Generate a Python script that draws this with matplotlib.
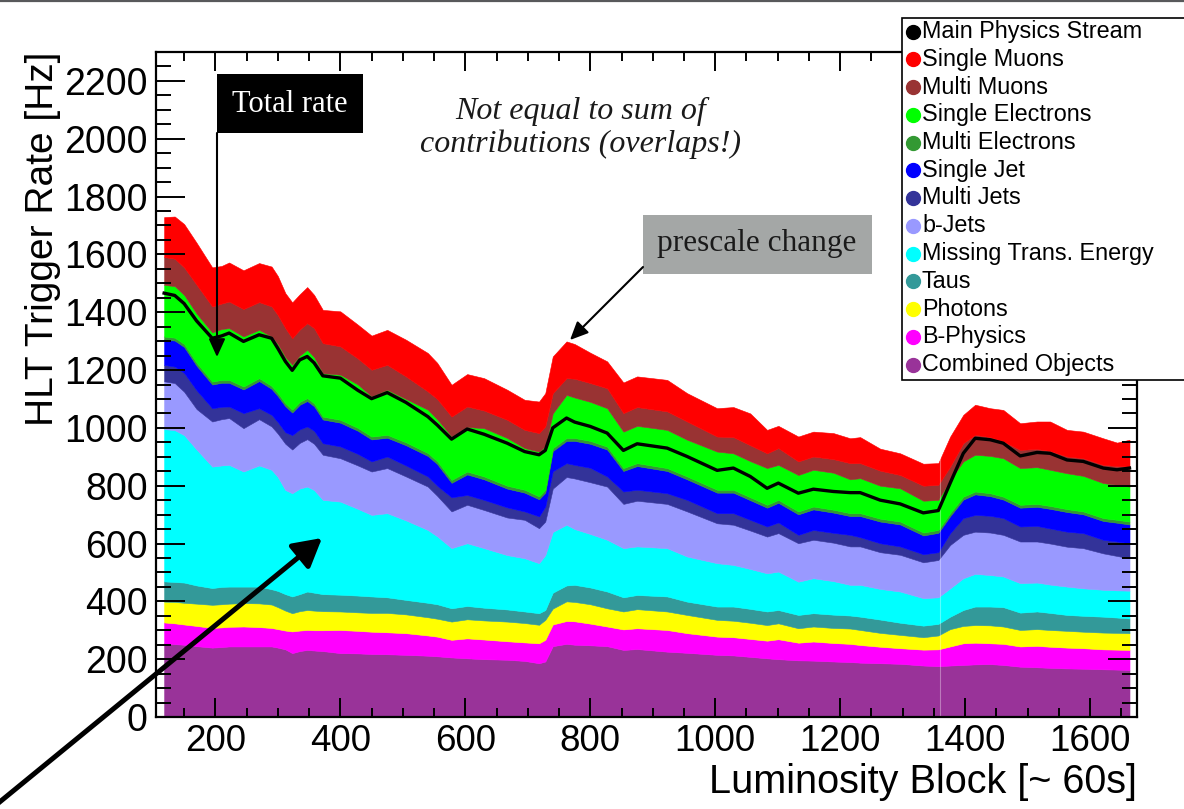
import numpy as np
import matplotlib
matplotlib.use("Agg")
import matplotlib.pyplot as plt
from matplotlib.patches import Rectangle, FancyArrowPatch
from matplotlib.lines import Line2D
from matplotlib.ticker import MultipleLocator

plt.rcParams["font.family"] = ["Liberation Sans", "DejaVu Sans"]

# Luminosity block of each sample
lumi_block = [118, 135, 150, 170, 195, 210, 222, 245, 270, 290,
              300, 312, 323, 335, 347, 358, 372, 400, 428, 450,
              475, 505, 540, 555, 578, 603, 630, 667, 695, 718,
              728, 740, 762, 775, 800, 827, 853, 875, 923, 955,
              1003, 1029, 1056, 1083, 1101, 1133, 1157, 1189, 1216, 1232,
              1264, 1296, 1333, 1357, 1376, 1397, 1416, 1440, 1461, 1488,
              1515, 1536, 1563, 1589, 1621, 1643, 1663]

# Upper edge [Hz] of each stacked band, bottom band first
edge_combined = [255, 252, 250, 245, 240, 242, 244, 244, 244, 244,
                 240, 234, 221, 228, 232, 230, 228, 221, 220, 218,
                 217, 215, 212, 210, 206, 203, 200, 198, 194, 186,
                 192, 245, 253, 250, 248, 245, 232, 235, 226, 222,
                 215, 213, 208, 203, 200, 196, 195, 192, 190, 188,
                 186, 184, 178, 176, 178, 180, 182, 183, 180, 174,
                 172, 170, 168, 167, 165, 164, 163]
edge_bphysics = [327, 324, 320, 315, 308, 310, 312, 313, 311, 308,
                 304, 299, 296, 299, 301, 300, 300, 301, 298, 295,
                 293, 290, 282, 278, 267, 272, 268, 262, 258, 255,
                 267, 320, 332, 331, 323, 313, 303, 307, 301, 290,
                 278, 276, 270, 264, 269, 257, 261, 256, 253, 249,
                 243, 238, 233, 234, 244, 255, 257, 255, 253, 244,
                 246, 243, 240, 238, 234, 233, 232]
edge_photons = [399, 398, 395, 392, 388, 390, 392, 394, 393, 389,
                380, 368, 359, 366, 370, 368, 366, 365, 362, 360,
                360, 355, 345, 340, 330, 338, 334, 330, 325, 319,
                336, 375, 400, 398, 390, 376, 365, 373, 365, 353,
                336, 333, 326, 318, 324, 307, 313, 308, 306, 301,
                291, 284, 276, 282, 304, 315, 318, 317, 313, 301,
                304, 301, 298, 295, 292, 291, 290]
edge_taus = [469, 467, 465, 455, 446, 450, 451, 451, 451, 442,
             436, 425, 417, 425, 434, 430, 425, 423, 420, 417,
             414, 405, 395, 390, 376, 384, 378, 372, 365, 359,
             370, 430, 455, 457, 448, 434, 414, 422, 417, 399,
             382, 382, 374, 365, 370, 353, 359, 354, 351, 347,
             337, 326, 316, 322, 347, 370, 382, 382, 380, 361,
             365, 360, 353, 350, 347, 344, 341]
edge_met = [996, 992, 975, 925, 866, 870, 872, 849, 870, 855,
            830, 785, 774, 790, 797, 785, 751, 745, 720, 699,
            705, 680, 647, 625, 584, 601, 584, 560, 549, 532,
            560, 640, 665, 650, 633, 613, 584, 590, 584, 555,
            532, 526, 512, 497, 503, 468, 480, 470, 457, 457,
            443, 434, 411, 414, 445, 480, 495, 491, 486, 463,
            465, 458, 451, 445, 440, 438, 437]
edge_bjets = [1161, 1155, 1125, 1065, 1022, 1030, 1034, 999, 1030, 1005,
              980, 945, 925, 948, 961, 945, 907, 895, 870, 849,
              861, 832, 797, 765, 711, 734, 716, 690, 682, 653,
              676, 790, 830, 825, 812, 797, 737, 748, 737, 711,
              670, 665, 645, 624, 636, 601, 613, 603, 590, 590,
              570, 561, 535, 543, 595, 630, 641, 638, 630, 607,
              607, 600, 589, 584, 566, 557, 549]
edge_multi_jets = [1218, 1212, 1190, 1130, 1068, 1073, 1074, 1051, 1068, 1045,
                   1020, 985, 975, 995, 1005, 990, 947, 936, 910, 884,
                   901, 870, 832, 800, 760, 768, 751, 725, 711, 694,
                   728, 850, 878, 872, 862, 832, 780, 786, 774, 751,
                   705, 705, 682, 659, 673, 630, 647, 637, 630, 622,
                   601, 590, 563, 570, 636, 688, 699, 696, 688, 659,
                   661, 652, 641, 636, 613, 607, 601]
edge_single_jet = [1306, 1302, 1280, 1215, 1150, 1156, 1156, 1133, 1162, 1135,
                   1110, 1075, 1053, 1080, 1093, 1075, 1029, 1018, 990, 960,
                   966, 940, 903, 875, 810, 839, 822, 790, 776, 753,
                   776, 920, 955, 955, 945, 925, 851, 868, 851, 822,
                   776, 776, 750, 724, 741, 701, 718, 707, 695, 695,
                   676, 666, 628, 637, 695, 752, 770, 764, 752, 724,
                   727, 720, 709, 701, 678, 672, 666]
edge_multi_e = [1316, 1312, 1290, 1225, 1160, 1166, 1166, 1143, 1172, 1145,
                1120, 1085, 1063, 1090, 1103, 1085, 1039, 1028, 1000, 970,
                976, 950, 913, 885, 820, 849, 832, 800, 786, 763,
                786, 930, 965, 965, 955, 935, 861, 878, 861, 832,
                786, 786, 760, 734, 751, 711, 728, 717, 705, 705,
                686, 676, 638, 647, 705, 762, 780, 774, 762, 734,
                737, 730, 719, 711, 688, 682, 676]
edge_single_e = [1495, 1490, 1460, 1395, 1330, 1342, 1345, 1316, 1339, 1316,
                 1290, 1245, 1218, 1250, 1270, 1245, 1189, 1184, 1150, 1109,
                 1132, 1100, 1063, 1030, 970, 1003, 999, 965, 930, 918,
                 936, 1050, 1114, 1105, 1090, 1068, 987, 1007, 993, 959,
                 918, 912, 885, 861, 872, 837, 855, 845, 822, 826,
                 800, 791, 748, 751, 820, 884, 907, 903, 895, 861,
                 864, 855, 843, 834, 809, 803, 797]
edge_multi_mu = [1591, 1585, 1555, 1495, 1420, 1430, 1437, 1411, 1435, 1420,
                 1390, 1345, 1310, 1340, 1362, 1345, 1293, 1282, 1240, 1201,
                 1218, 1178, 1126, 1100, 1039, 1074, 1060, 1028, 993, 982,
                 1005, 1120, 1172, 1170, 1155, 1137, 1051, 1072, 1057, 1022,
                 970, 968, 940, 912, 930, 884, 901, 892, 878, 878,
                 852, 837, 800, 803, 866, 947, 976, 968, 953, 924,
                 927, 920, 901, 895, 872, 868, 866]
edge_single_mu = [1729, 1731, 1705, 1640, 1555, 1560, 1572, 1545, 1570, 1558,
                  1525, 1466, 1434, 1462, 1487, 1460, 1408, 1403, 1357, 1319,
                  1339, 1305, 1259, 1225, 1149, 1186, 1172, 1132, 1097, 1091,
                  1120, 1247, 1299, 1290, 1260, 1230, 1157, 1178, 1166, 1120,
                  1068, 1072, 1050, 993, 1007, 970, 987, 982, 964, 968,
                  928, 912, 876, 878, 970, 1045, 1080, 1068, 1062, 1016,
                  1022, 1022, 993, 987, 964, 949, 959]

# Total rate of the main physics stream [Hz]
main_stream = [1466, 1458, 1430, 1370, 1310, 1318, 1328, 1299, 1322, 1310,
               1275, 1230, 1199, 1235, 1247, 1225, 1180, 1172, 1130, 1101,
               1122, 1088, 1039, 1010, 961, 996, 978, 947, 918, 907,
               922, 1000, 1034, 1020, 1005, 982, 922, 945, 930, 901,
               853, 861, 832, 791, 809, 774, 788, 780, 776, 776,
               750, 737, 706, 714, 809, 912, 964, 959, 947, 903,
               915, 912, 889, 884, 861, 855, 861]

categories = ["Combined Objects", "B-Physics", "Photons", "Taus",
              "Missing Trans. Energy", "b-Jets", "Multi Jets", "Single Jet",
              "Multi Electrons", "Single Electrons", "Multi Muons", "Single Muons"]
band_colors = ["#993399", "#ff00ff", "#ffff00", "#339999",
               "#00ffff", "#9999ff", "#333399", "#0000ff",
               "#339933", "#00ff00", "#993333", "#ff0000"]

edges = np.array([edge_combined, edge_bphysics, edge_photons, edge_taus,
                  edge_met, edge_bjets, edge_multi_jets, edge_single_jet,
                  edge_multi_e, edge_single_e, edge_multi_mu, edge_single_mu],
                 dtype=float)
rates = np.diff(np.vstack([np.zeros(edges.shape[1]), edges]), axis=0)

W, H = 1184, 809


def fpt(x, y):
    """Pixel position (from top-left) to figure fraction."""
    return x / W, 1 - y / H


fig = plt.figure(figsize=(W / 100, H / 100), dpi=100)
ax = fig.add_axes([156 / W, 1 - 717 / H, (1137 - 156) / W, (717 - 52) / H])

ax.stackplot(lumi_block, *rates, colors=band_colors, labels=categories,
             linewidth=0.4, edgecolor="face", zorder=1)
ax.axvline(1359, color="white", alpha=0.35, lw=0.8, zorder=1.2)
ax.plot(lumi_block, main_stream, color="black", lw=2.4, zorder=2,
        solid_joinstyle="round", label="Main Physics Stream")

ax.set_xlim(105, 1675)
ax.set_ylim(0, 2300)
ax.xaxis.set_major_locator(MultipleLocator(200))
ax.xaxis.set_minor_locator(MultipleLocator(50))
ax.yaxis.set_major_locator(MultipleLocator(200))
ax.yaxis.set_minor_locator(MultipleLocator(50))

for s in ax.spines.values():
    s.set_linewidth(1.6)
ax.tick_params(which="both", direction="in", top=True, right=True, width=1.4)
ax.tick_params(axis="x", which="major", length=13.7, labelsize=26.5, pad=5)
ax.tick_params(axis="x", which="minor", length=6.5)
ax.tick_params(axis="y", which="major", length=21, labelsize=27, pad=6)
ax.tick_params(axis="y", which="minor", length=10.8)

ax.set_xlabel("Luminosity Block [~ 60s]", fontsize=28.5, loc="right", labelpad=3)
ax.set_ylabel("HLT Trigger Rate [Hz]", fontsize=28, loc="top", labelpad=2)

# thin rule across the top of the page
fig.add_artist(Line2D([0, 1], [1 - 1 / H, 1 - 1 / H], transform=fig.transFigure,
                      color="#58595b", lw=1.6))

# legend box
lx, ly = fpt(902, 380)
fig.add_artist(Rectangle((lx, ly), 1.01 - lx, (380 - 18) / H, transform=fig.transFigure,
                         facecolor="white", edgecolor="black", lw=1.2, zorder=5))
legend_labels = ["Main Physics Stream"] + categories[::-1]
legend_colors = ["black"] + band_colors[::-1]
for i, (lab, col) in enumerate(zip(legend_labels, legend_colors)):
    yc = 31.5 + i * 27.75
    mx, my = fpt(912.5, yc)
    fig.add_artist(Line2D([mx], [my], transform=fig.transFigure, marker="o",
                          markersize=10, color=col, lw=0, zorder=6))
    tx, ty = fpt(922, yc)
    fig.text(tx, ty, lab, fontsize=16.8, va="center", ha="left", zorder=6)

# "Total rate" box with arrow
bx, by = fpt(217, 133)
fig.add_artist(Rectangle((bx, by), 146 / W, 59 / H, transform=fig.transFigure,
                         facecolor="black", edgecolor="none", zorder=5))
tx, ty = fpt(290, 104)
fig.text(tx, ty, "Total rate", color="white", fontsize=22, ha="center", va="center",
         family=["Liberation Serif", "DejaVu Serif"], zorder=6)
fig.add_artist(FancyArrowPatch(fpt(217, 133), fpt(217, 357), transform=fig.transFigure,
                               arrowstyle="-|>,head_length=11,head_width=5",
                               mutation_scale=1, lw=1.5, color="black",
                               shrinkA=0, shrinkB=0, zorder=6))

# "prescale change" box with arrow
bx, by = fpt(643, 274)
fig.add_artist(Rectangle((bx, by), 229 / W, 59 / H, transform=fig.transFigure,
                         facecolor="#a4a7a6", edgecolor="none", zorder=5))
tx, ty = fpt(757, 244)
fig.text(tx, ty, "prescale change", color="#1a1a1a", fontsize=22.5, ha="center",
         va="center", family=["Liberation Serif", "DejaVu Serif"], zorder=6)
fig.add_artist(FancyArrowPatch(fpt(643, 267), fpt(570, 340), transform=fig.transFigure,
                               arrowstyle="-|>,head_length=11,head_width=5",
                               mutation_scale=1, lw=1.5, color="black",
                               shrinkA=0, shrinkB=0, zorder=6))

# note on overlapping contributions
tx, ty = fpt(581, 128)
fig.text(tx, ty, "Not equal to sum of\ncontributions (overlaps!)", color="#1a1a1a",
         fontsize=23, style="italic", ha="center", va="center", linespacing=1.16,
         family=["Liberation Serif", "DejaVu Serif"], zorder=6)

# large arrow pointing at the missing transverse energy band
fig.add_artist(FancyArrowPatch(fpt(-4, 805), fpt(322, 538), transform=fig.transFigure,
                               arrowstyle="-|>,head_length=17,head_width=9.5",
                               mutation_scale=1, lw=3.6, color="black",
                               shrinkA=0, shrinkB=0, zorder=7))

fig.savefig("out.png", dpi=100)
